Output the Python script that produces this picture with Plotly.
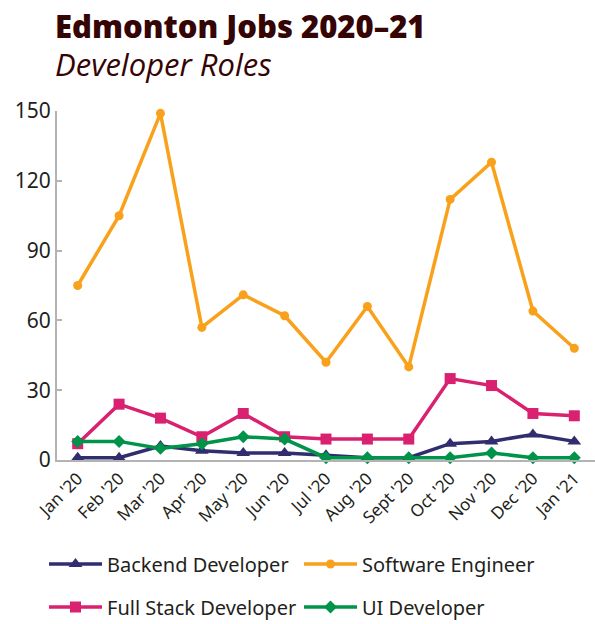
import plotly.graph_objects as go

months = ["Jan '20", "Feb '20", "Mar '20", "Apr '20", "May '20", "Jun '20", "Jul '20",
          "Aug '20", "Sept '20", "Oct '20", "Nov '20", "Dec '20", "Jan '21"]
backend = [1, 1, 6, 4, 3, 3, 2, 1, 1, 7, 8, 11, 8]
software = [75, 105, 149, 57, 71, 62, 42, 66, 40, 112, 128, 64, 48]
fullstack = [7, 24, 18, 10, 20, 10, 9, 9, 9, 35, 32, 20, 19]
ui = [8, 8, 5, 7, 10, 9, 1, 1, 1, 1, 3, 1, 1]
y_ticks = [0, 30, 60, 90, 120, 150]

W, H = 595, 624
L, R, T, B = 57, 0, 111, 164
ph = H - T - B
pw = W - L - R

def py(px):  # pixel y from top -> paper y
    return (H - B - px) / ph

def pxx(px):
    return (px - L) / pw

fig = go.Figure()
series = [
    ("Backend Developer", backend, "#302e6e", "triangle-up", 12, "legend"),
    ("Software Engineer", software, "#f9a11b", "circle", 9, "legend"),
    ("Full Stack Developer", fullstack, "#d9216f", "square", 11, "legend2"),
    ("UI Developer", ui, "#00934a", "diamond", 10, "legend2"),
]
x_idx = list(range(len(months)))
for name, vals, col, sym, sz, lg in series:
    fig.add_trace(go.Scatter(
        x=x_idx, y=vals, name=name, mode="lines+markers",
        line=dict(color=col, width=3.5),
        marker=dict(symbol=sym, size=sz, color=col),
        cliponaxis=False, legend=lg,
    ))

leg_font = dict(size=20, family="Noto Sans", color="#231f20")
leg_common = dict(orientation="h", xanchor="left", yanchor="middle",
                  entrywidth=187, entrywidthmode="pixels", itemwidth=53,
                  font=leg_font, bgcolor="rgba(0,0,0,0)")

fig.update_layout(
    template="none",
    width=W, height=H,
    margin=dict(l=L, r=R, t=T, b=B, autoexpand=False),
    plot_bgcolor="white", paper_bgcolor="white",
    font=dict(family="Noto Sans", color="#231f20"),
    showlegend=True,
    legend=dict(x=pxx(44), y=py(564), **leg_common),
    legend2=dict(x=pxx(44), y=py(607), **leg_common),
    xaxis=dict(
        range=[-0.5, 12.5], tickmode="array", tickvals=x_idx, ticktext=months,
        tickangle=-45, tickfont=dict(size=17), automargin=False,
        showgrid=False, zeroline=False,
        showline=True, linecolor="#b3b3b3", linewidth=2, ticks="",
    ),
    yaxis=dict(
        range=[0, 150], tickmode="array", tickvals=y_ticks, automargin=False,
        tickfont=dict(size=21), showgrid=False, zeroline=False,
        showline=True, linecolor="#b3b3b3", linewidth=2,
        ticks="inside", ticklen=5, tickcolor="#b3b3b3", tickwidth=2,
    ),
    annotations=[
        dict(text="Edmonton Jobs 2020–21", xref="paper", yref="paper",
             x=pxx(53), y=py(26), xanchor="left", yanchor="middle", showarrow=False,
             font=dict(family="Open Sans", size=31, weight=800, color="#350404")),
        dict(text="<i>Developer Roles</i>", xref="paper", yref="paper",
             x=pxx(53), y=py(64), xanchor="left", yanchor="middle", showarrow=False,
             font=dict(family="Open Sans", size=31, color="#350404")),
    ],
)

fig.write_html("out.html", config={"displayModeBar": False},
               post_script="document.body.style.margin='0';")
